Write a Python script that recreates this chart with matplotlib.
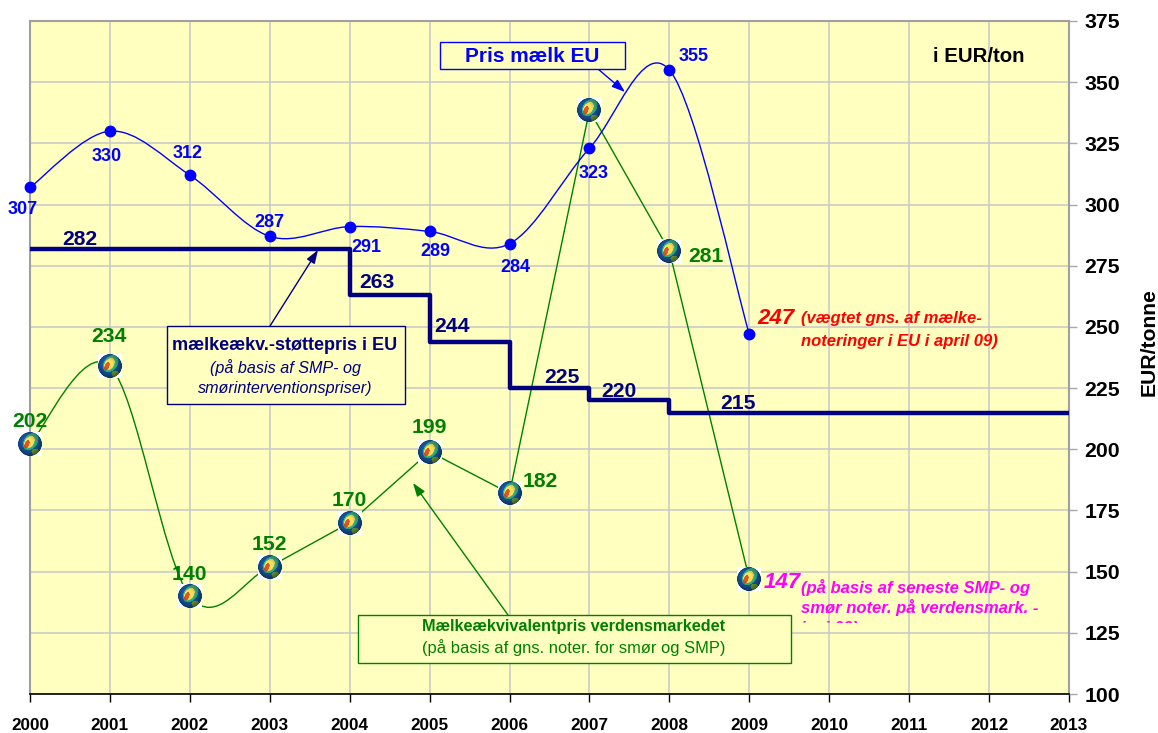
import matplotlib
matplotlib.use('Agg')
import matplotlib.pyplot as plt
from matplotlib.offsetbox import OffsetImage, AnnotationBbox
from matplotlib.patches import PathPatch, Rectangle
from matplotlib.path import Path
import numpy as np

plt.rcParams['font.family'] = ['Liberation Sans', 'DejaVu Sans']

W, H = 1158, 733

years_all = list(range(2000, 2014))
y_ticks = list(range(100, 376, 25))

years = [2000, 2001, 2002, 2003, 2004, 2005, 2006, 2007, 2008, 2009]
eu_price = [307, 330, 312, 287, 291, 289, 284, 323, 355, 247]
world_price = [202, 234, 140, 152, 170, 199, 182, 338.5, 281, 147]

support_years = [2000, 2004, 2005, 2006, 2007, 2008, 2013]
support_price = [282, 263, 244, 225, 220, 215, 215]

# label text, then offset from the point in pixels
eu_labels = ['307', '330', '312', '287', '291', '289', '284', '323', '355', None]
eu_offsets = [(-7, -22), (-3, -25), (-2, 22), (0, 14), (17, -21), (6, -20), (6, -24), (4, -25), (24, 13), None]
world_labels = ['202', '234', '140', '152', '170', '199', '182', None, '281', None]
world_offsets = [(0, 23), (-1, 30), (0, 22), (0, 22), (0, 22), (0, 24), (31, 12), None, (36, -5), None]
support_labels = ['282', '263', '244', '225', '220', '215']
support_label_x = [2000.62, 2004.34, 2005.28, 2006.65, 2007.37, 2008.86]
support_label_dy = [9, 13, 15, 11, 9, 9]


def px(x, y):
    return x / W, 1 - y / H


def smooth_path(x, y, n_smooth=None):
    # same kind of smoothing as the spreadsheet line, straight after n_smooth segments
    pts = np.column_stack([x, y]).astype(float)
    verts = [pts[0]]
    codes = [Path.MOVETO]
    for i in range(len(pts) - 1):
        p0 = pts[max(i - 1, 0)]
        p1 = pts[i]
        p2 = pts[i + 1]
        p3 = pts[min(i + 2, len(pts) - 1)]
        if n_smooth is not None and i >= n_smooth:
            verts.append(p2)
            codes.append(Path.LINETO)
        else:
            verts += [p1 + (p2 - p0) / 6, p2 - (p3 - p1) / 6, p2]
            codes += [Path.CURVE4] * 3
    return Path(verts, codes)


def globe_image(n=96):
    v, u = np.mgrid[-1:1:n * 1j, -1:1:n * 1j]
    r = np.sqrt(u ** 2 + v ** 2)
    img = np.ones((n, n, 3))
    shade = np.clip(1.2 - 0.6 * np.sqrt((u + 0.1) ** 2 + (v + 0.15) ** 2), 0.35, 1)[:, :, None]
    sphere = np.array([0.1, 0.4, 0.72])[None, None, :] * np.ones((n, n, 3))
    land = ((u + 0.0 + 0.3 * v) / 0.62) ** 2 + ((v + 0.2) / 0.72) ** 2 < 1
    sphere[land] = np.array([0.25, 0.75, 0.55])
    land2 = ((u - 0.35 - 0.2 * v) / 0.35) ** 2 + ((v - 0.68) / 0.28) ** 2 < 1
    sphere[land2] = np.array([0.5, 0.72, 0.25])
    dry = ((u + 0.1 + 0.3 * v) / 0.42) ** 2 + ((v + 0.15) / 0.52) ** 2 < 1
    sphere[dry] = np.array([0.98, 0.88, 0.35])
    hot = ((u + 0.25 + 0.3 * v) / 0.2) ** 2 + ((v - 0.02) / 0.36) ** 2 < 1
    sphere[hot] = np.array([0.85, 0.35, 0.15])
    sphere = sphere * shade
    img[r < 1] = sphere[r < 1]
    return img


fig = plt.figure(figsize=(W / 100, H / 100), dpi=100)
ax = fig.add_axes([30 / W, 1 - 694 / H, (1069 - 30) / W, (694 - 21) / H])
ax.set_facecolor('#FFFFC0')
ax.set_xlim(2000, 2013)
ax.set_ylim(100, 375)

ax.set_xticks(years_all)
ax.set_yticks(y_ticks)
ax.grid(True, color='#C8C8C8', linewidth=1.1, zorder=1)
ax.set_axisbelow(True)
ax.yaxis.tick_right()
ax.tick_params(axis='y', length=6, width=1.0, color='#A8A8A8', pad=5)
ax.tick_params(axis='x', length=6, width=1.0, color='black', pad=11)
for lab in ax.get_xticklabels():
    lab.set_fontsize(12.3)
    lab.set_fontweight('bold')
for lab in ax.get_yticklabels():
    lab.set_fontsize(15.3)
    lab.set_fontweight('bold')
for side in ['left', 'right', 'top']:
    ax.spines[side].set_color('#A0A0A0')
    ax.spines[side].set_linewidth(1.5)
ax.spines['bottom'].set_color('black')
ax.spines['bottom'].set_linewidth(1.2)

# curves
ax.add_patch(PathPatch(smooth_path(years, world_price, 3), fill=False, edgecolor='#008000',
                       linewidth=1.0, zorder=3))
ax.add_patch(PathPatch(smooth_path(years, eu_price), fill=False, edgecolor='#0000FF',
                       linewidth=1.0, zorder=3))
ax.plot(years, eu_price, linestyle='none', marker='o', markersize=7.5, color='#0000FF',
        clip_on=False, zorder=5)
ax.step(support_years, support_price, where='post', color='#000080', linewidth=3.2,
        solid_joinstyle='round', zorder=4)

# globes
globe = globe_image()
for xv, yv in zip(years, world_price):
    ab = AnnotationBbox(OffsetImage(globe, zoom=0.18), (xv, yv), frameon=False,
                        annotation_clip=False, pad=0, zorder=6)
    ax.add_artist(ab)

# value labels
for xv, yv, lab, off in zip(years, eu_price, eu_labels, eu_offsets):
    if lab:
        ax.annotate(lab, (xv, yv), xytext=off, textcoords='offset pixels', color='#0000FF',
                    fontsize=13, fontweight='bold', ha='center', va='center', zorder=7,
                    annotation_clip=False)
for xv, yv, lab, off in zip(years, world_price, world_labels, world_offsets):
    if lab:
        ax.annotate(lab, (xv, yv), xytext=off, textcoords='offset pixels', color='#008000',
                    fontsize=15.2, fontweight='bold', ha='center', va='center', zorder=7,
                    annotation_clip=False)
for xv, yv, lab, dy in zip(support_label_x, support_price, support_labels, support_label_dy):
    ax.annotate(lab, (xv, yv), xytext=(0, dy), textcoords='offset pixels', color='#000080',
                fontsize=15.2, fontweight='bold', ha='center', va='center', zorder=7)


def box(x0, y0, x1, y1, color):
    fig.add_artist(Rectangle(px(x0, y1), (x1 - x0) / W, (y1 - y0) / H, transform=fig.transFigure,
                             facecolor='#FFFFC0', edgecolor=color, linewidth=1.0, zorder=8))


def label(x, y, s, color, size, ha='center', **kw):
    return fig.text(*px(x, y + 1), s, color=color, fontsize=size, ha=ha, va='center', zorder=9, **kw)


def arrow(start, end, color):
    ax.annotate('', xy=px(*end), xytext=px(*start), xycoords='figure fraction',
                textcoords='figure fraction', zorder=7,
                arrowprops=dict(arrowstyle='-|>,head_width=0.28,head_length=0.8', color=color,
                                linewidth=1.0, shrinkA=0, shrinkB=0))


arrow((598, 69), (625, 92), '#0000FF')
arrow((270, 326), (318, 250), '#000080')
arrow((508, 615), (413, 483), '#008000')

box(440, 42, 625, 69, '#0000FF')
label(532, 55, 'Pris mælk EU', '#0000FF', 15, fontweight='bold')
label(979, 55, 'i EUR/ton', 'black', 14.7, fontweight='bold')

box(167, 326, 405, 404, '#000080')
label(285, 344, 'mælkeækv.-støttepris i EU', '#000080', 13, fontweight='bold')
label(285, 367, '(på basis af SMP- og', '#000080', 11.6, style='italic')
label(285, 387, 'smørinterventionspriser)', '#000080', 11.6, style='italic')

box(358, 615, 791, 663, '#008000')
label(574, 626, 'Mælkeækvivalentpris verdensmarkedet', '#008000', 11.7, fontweight='bold')
label(574, 647, '(på basis af gns. noter. for smør og SMP)', '#008000', 11.9)

label(776, 318, '247', '#FF0000', 16, fontweight='bold', style='italic')
label(801, 318, '(vægtet gns. af mælke-', '#FF0000', 12, ha='left', fontweight='bold', style='italic')
label(801, 340, 'noteringer i EU i april 09)', '#FF0000', 12, ha='left', fontweight='bold', style='italic')

label(782, 582, '147', '#FF00FF', 16, fontweight='bold', style='italic')
label(801, 586, '(på basis af seneste SMP- og', '#FF00FF', 12, ha='left', fontweight='bold', style='italic')
label(801, 607, 'smør noter. på verdensmark. -', '#FF00FF', 12, ha='left', fontweight='bold', style='italic')
cut = label(801, 628, 'juni 09)', '#FF00FF', 12, ha='left', fontweight='bold', style='italic')
cut.set_clip_path(Rectangle(px(795, 623), 120 / W, 15 / H, transform=fig.transFigure))

fig.text(*px(1149, 342), 'EUR/tonne', color='black', fontsize=15.2, fontweight='bold',
         rotation=90, ha='center', va='center')

fig.savefig('out.png', dpi=100, facecolor='white')
